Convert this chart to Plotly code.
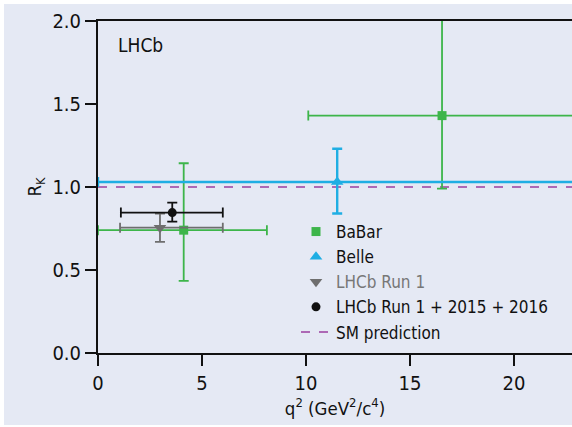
import plotly.graph_objects as go

# BaBar
babar_x = [4.12, 16.54]
babar_y = [0.74, 1.43]
babar_xlo = [0.0, 10.11]
babar_xhi = [8.12, 23.0]
babar_ylo = [0.434, 0.99]
babar_yhi = [1.143, 2.08]

# Belle
belle_x = [11.5]
belle_y = [1.03]
belle_xlo = [0.0]
belle_xhi = [23.0]
belle_ylo = [0.84]
belle_yhi = [1.23]

# LHCb Run 1
run1_x = [2.98]
run1_y = [0.755]
run1_xlo = [1.06]
run1_xhi = [6.0]
run1_ylo = [0.67]
run1_yhi = [0.84]

# LHCb Run 1 + 2015 + 2016
comb_x = [3.57]
comb_y = [0.846]
comb_xlo = [1.1]
comb_xhi = [6.0]
comb_ylo = [0.792]
comb_yhi = [0.906]

# SM prediction
sm_x = [0.0, 23.0]
sm_y = [1.0, 1.0]

FONT = "Liberation Sans Narrow, DejaVu Sans Condensed, Roboto, sans-serif"
BG = "#E5E9F4"

def errs(x, y, xlo, xhi, ylo, yhi):
    return dict(
        ex_p=[b - a for a, b in zip(x, xhi)],
        ex_m=[a - b for a, b in zip(x, xlo)],
        ey_p=[b - a for a, b in zip(y, yhi)],
        ey_m=[a - b for a, b in zip(y, ylo)],
    )

fig = go.Figure()

fig.add_trace(go.Scatter(x=sm_x, y=sm_y, mode="lines", name="SM prediction",
                         line=dict(color="#9B3FA0", width=1.5, dash="dash"),
                         showlegend=False))

def add(x, y, xlo, xhi, ylo, yhi, name, color, symbol, size, lw=1.8):
    e = errs(x, y, xlo, xhi, ylo, yhi)
    fig.add_trace(go.Scatter(
        x=x, y=y, mode="markers", name=name,
        marker=dict(color=color, symbol=symbol, size=size),
        error_x=dict(type="data", symmetric=False, array=e["ex_p"], arrayminus=e["ex_m"],
                     color=color, thickness=lw, width=5),
        error_y=dict(type="data", symmetric=False, array=e["ey_p"], arrayminus=e["ey_m"],
                     color=color, thickness=lw, width=5),
    ))

add(babar_x, babar_y, babar_xlo, babar_xhi, babar_ylo, babar_yhi, "BaBar", "#3DB54A", "square", 9)
add(belle_x, belle_y, belle_xlo, belle_xhi, belle_ylo, belle_yhi, "Belle", "#1FAEE3", "triangle-up", 11, 2.4)
add(run1_x, run1_y, run1_xlo, run1_xhi, run1_ylo, run1_yhi,
    "<span style='color:#777777'>LHCb Run 1</span>", "#6E6E6E", "triangle-down", 11)
add(comb_x, comb_y, comb_xlo, comb_xhi, comb_ylo, comb_yhi, "LHCb Run 1 + 2015 + 2016", "#111111", "circle", 9)

# legend entry for SM prediction (line)
fig.add_trace(go.Scatter(x=[None], y=[None], mode="lines", name="SM prediction",
                         line=dict(color="#9B3FA0", width=1.5, dash="dash")))

W, H = 572, 427
ml, mr, mt, mb = 98, 0, 21, 74
pw, ph = W - ml - mr, H - mt - mb

fig.add_shape(type="rect", xref="paper", yref="paper",
              x0=(4 - ml) / pw, x1=1.0 + 10 / pw,
              y0=-(H - 2 - (mt + ph)) / ph, y1=(mt + ph - 4) / ph,
              fillcolor=BG, line=dict(width=0), layer="below")

fig.add_annotation(x=(116 - ml) / pw, y=(mt + ph - 45) / ph, xref="paper", yref="paper", text="LHCb",
                   showarrow=False, xanchor="left", yanchor="middle",
                   font=dict(size=19, color="#111111", family=FONT))

fig.update_layout(
    width=W, height=H,
    margin=dict(l=ml, r=mr, t=mt, b=mb, autoexpand=False),
    paper_bgcolor="white", plot_bgcolor=BG,
    font=dict(family=FONT, color="#111111"),
    xaxis=dict(range=[0, pw / 20.8], tickvals=[0, 5, 10, 15, 20], ticks="outside",
               ticklen=11, tickwidth=1.5, tickcolor="#111111",
               showline=True, linecolor="#111111", linewidth=2, mirror=True,
               showgrid=False, zeroline=False, tickfont=dict(size=20),
               title=dict(text="q<sup>2</sup> (GeV<sup>2</sup>/c<sup>4</sup>)",
                          font=dict(size=18.5), standoff=2)),
    yaxis=dict(range=[0, 2], tickvals=[0, 0.5, 1.0, 1.5, 2.0], tickformat=".1f",
               ticks="outside", ticklen=11, tickwidth=1.5, tickcolor="#111111",
               showline=True, linecolor="#111111", linewidth=2, mirror=False,
               showgrid=False, zeroline=False, tickfont=dict(size=20),
               title=dict(text="R<sub>K</sub>", font=dict(size=18.5), standoff=6)),
    legend=dict(x=(296 - ml) / pw, y=(mt + ph - 214) / ph, xanchor="left", yanchor="top",
                bgcolor="rgba(0,0,0,0)", font=dict(size=17, color="#111111"),
                tracegroupgap=0, itemwidth=30),
    showlegend=True,
)

fig.write_html("out.html")
